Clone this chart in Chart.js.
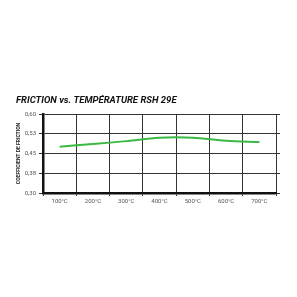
<!DOCTYPE html>
<html>
<head>
<meta charset="utf-8">
<script src="https://cdn.jsdelivr.net/npm/chart.js@4/dist/chart.umd.min.js"></script>
<style>
  html, body { margin: 0; padding: 0; background: #fff; }
  #wrap { width: 297px; height: 297px; }
</style>
</head>
<body>
<div id="wrap"><canvas id="chart" width="297" height="297"></canvas></div>
<script>
// données
const temperatures = ['100°C', '200°C', '300°C', '400°C', '500°C', '600°C', '700°C'];
const friction = [0.476, 0.486, 0.497, 0.510, 0.510, 0.498, 0.494];
const yTickValues = [0.30, 0.375, 0.45, 0.525, 0.60];
const yTickLabels = ['0,30', '0,38', '0,45', '0,53', '0,60'];

const ctx = document.getElementById('chart');
new Chart(ctx, {
    type: 'line',
    data: {
        labels: temperatures,
        datasets: [{
            data: friction,
            borderColor: '#3cb944',
            borderWidth: 2,
            tension: 0.35,
            pointRadius: 0,
            fill: false
        }]
    },
    options: {
        responsive: false,
        animation: false,
        layout: {
            padding: { left: 16, right: 17, top: 95, bottom: 90 }
        },
        scales: {
            x: {
                offset: true,
                grid: {
                    offset: true,
                    color: '#333',
                    lineWidth: 1,
                    tickLength: 3
                },
                border: { color: '#111', width: 2.5 },
                ticks: {
                    color: '#555',
                    font: { family: 'Roboto', size: 6 },
                    padding: 2,
                    maxRotation: 0,
                    autoSkip: false
                },
                afterFit: function(scale) { scale.height = 14; }
            },
            y: {
                min: 0.30,
                max: 0.60,
                afterBuildTicks: function(scale) {
                    scale.ticks = yTickValues.map(v => ({ value: v }));
                },
                grid: {
                    color: '#333',
                    lineWidth: 1,
                    tickLength: 4
                },
                border: { color: '#111', width: 2.5 },
                ticks: {
                    color: '#555',
                    font: { family: 'Roboto', size: 6 },
                    padding: 3,
                    callback: function(value, index) { return yTickLabels[index]; }
                },
                title: {
                    display: true,
                    text: 'COEFFICIENT DE FRICTION',
                    color: '#222',
                    font: { family: 'Roboto', size: 5, weight: 'bold' },
                    padding: 0
                },
                afterFit: function(scale) { scale.width = 27; }
            },
            y2: {
                position: 'right',
                min: 0.30,
                max: 0.60,
                afterBuildTicks: function(scale) {
                    scale.ticks = yTickValues.map(v => ({ value: v }));
                },
                grid: {
                    color: '#333',
                    lineWidth: 1,
                    tickLength: 4,
                    drawOnChartArea: false
                },
                border: { display: false },
                ticks: { display: false },
                afterFit: function(scale) { scale.width = 4; }
            }
        },
        plugins: {
            legend: { display: false },
            tooltip: { enabled: false },
            title: {
                display: true,
                text: 'FRICTION vs. TEMPÉRATURE RSH 29E',
                align: 'start',
                color: '#111',
                font: { family: 'Roboto', size: 9.5, weight: 'bold', style: 'italic' },
                padding: { top: 0, bottom: 7.6 }
            }
        }
    },
    plugins: [{
        id: 'whiteBg',
        beforeDraw: function(chart) {
            const c = chart.ctx;
            c.save();
            c.fillStyle = '#fff';
            c.fillRect(0, 0, chart.width, chart.height);
            c.restore();
        }
    }]
});
</script>
</body>
</html>
